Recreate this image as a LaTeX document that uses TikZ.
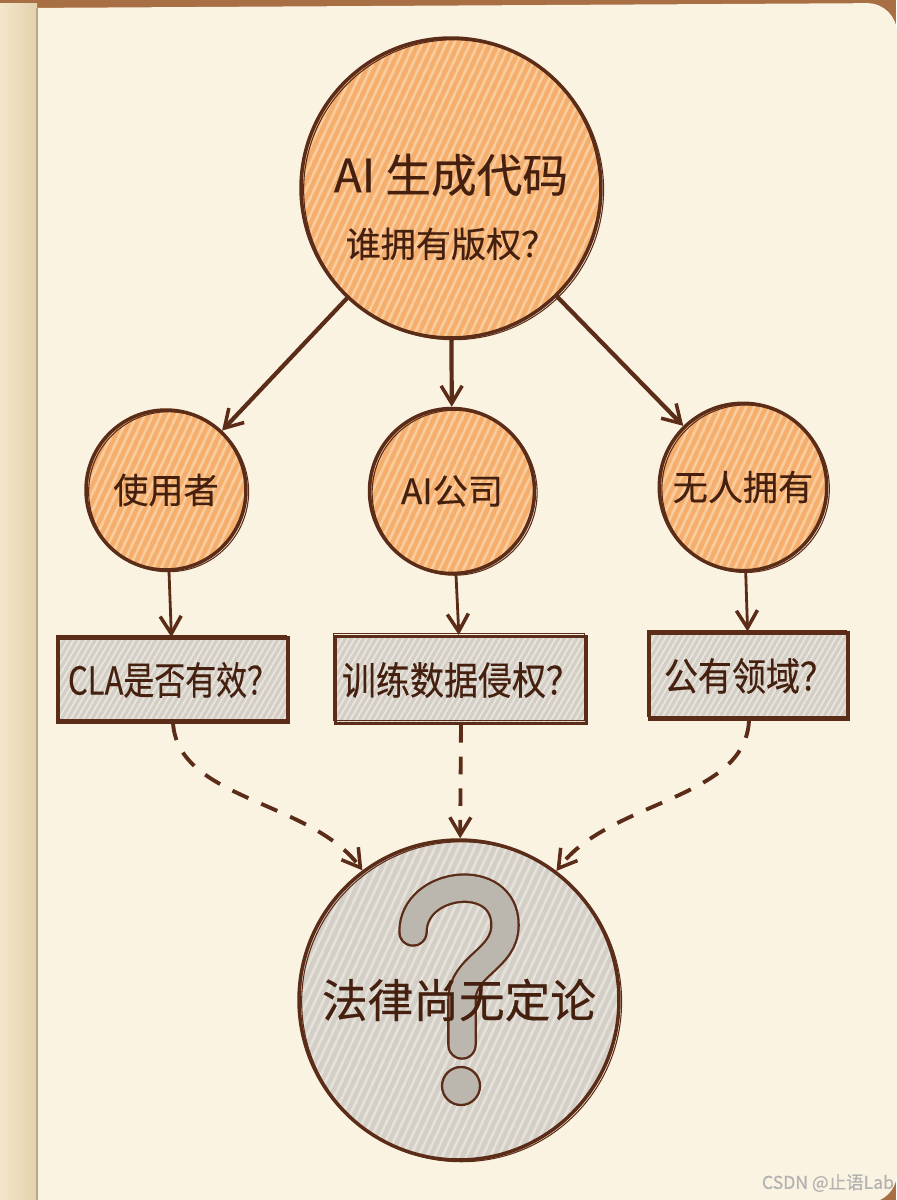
\documentclass[tikz,border=0pt]{standalone}
\usepackage{fontspec}
\newfontfamily\cjk[FakeBold=0.4]{Noto Sans CJK SC}
\usetikzlibrary{arrows.meta,patterns.meta}

\definecolor{desk}{HTML}{A86F45}
\definecolor{page}{HTML}{FBF3E2}
\definecolor{leaf}{HTML}{F3E6CB}
\definecolor{leafdk}{HTML}{E4D1AC}
\definecolor{ink}{HTML}{5B2C17}
\definecolor{txt}{HTML}{45200F}
\definecolor{peach}{HTML}{F5AE6C}
\definecolor{peachlt}{HTML}{FBD3A8}
\definecolor{stone}{HTML}{D3CFC7}
\definecolor{stonelt}{HTML}{EAE6DE}
\definecolor{qgray}{HTML}{BBB6AE}

\begin{document}
\begin{tikzpicture}[x=0.02cm, y=-0.02cm,
  ball/.style={circle, draw=ink, line width=2pt, inner sep=0pt, text=txt,
    preaction={fill=peach},
    pattern={Lines[angle=65,distance=4pt,line width=1.3pt]}, pattern color=peachlt,
    postaction={draw=ink, line width=0.6pt, transform canvas={shift={(1.5pt,-1pt)}}},
    font=\cjk\fontsize{20}{24}\selectfont},
  qbox/.style={rectangle, draw=ink, line width=1.8pt, inner sep=0pt, text=txt,
    preaction={fill=stone},
    pattern={Lines[angle=60,distance=3pt,line width=1pt]}, pattern color=stonelt,
    postaction={draw=ink, line width=0.5pt, transform canvas={shift={(-1pt,1.5pt)}}},
    font=\cjk\fontsize{22}{26}\selectfont},
  law/.style={ball, preaction={fill=stone}, pattern color=stonelt},
  arr/.style={draw=ink, line width=2.4pt, -{Straight Barb[length=10pt,width=12pt,line width=2pt]}},
  dashline/.style={arr, line width=2.2pt, dash pattern=on 10pt off 8pt},
  qmark/.style={draw=ink, line width=1.3pt, double=qgray, double distance=0.5cm, line cap=round}]
\useasboundingbox (0,0) rectangle (896,1200);
% notebook
\fill[desk] (0,0) rectangle (896,1200);
\fill[page] (20,1210) -- (20,8) [rounded corners=0.6cm] -- (897,3) -- (897,1203) -- (20,1203) -- cycle;
\shade[left color=leaf, right color=leafdk] (0,3) rectangle (37,1200);
\draw[leafdk!80!black, line width=0.6pt] (37,8) -- (37,1200);

\node[ball, minimum size=6cm, label={[text=txt, align=center, yshift=-0.38cm,
    font=\cjk\fontsize{26}{31}\selectfont]center:{AI 生成代码\\[6pt]{\fontsize{20}{24}\selectfont 谁拥有版权？}}}] (Q) at (451,188) {};

\node[ball, minimum size=3.2cm] (U) at (166,490) {使用者};
\node[ball, minimum size=3.3cm] (C) at (452,491) {AI公司};
\node[ball, minimum size=3.35cm] (N) at (743,487) {无人拥有};

\node[qbox, minimum width=4.6cm, minimum height=1.68cm] (U') at (173,680) {\scalebox{0.8}[1]{CLA是否有效？}};
\node[qbox, minimum width=5.02cm, minimum height=1.74cm] (C') at (461,680) {\scalebox{0.88}[1]{训练数据侵权？}};
\node[qbox, minimum width=3.98cm, minimum height=1.72cm] (N') at (749,676) {\scalebox{0.88}[1]{公有领域？}};

\draw[arr] (Q) -- (U);
\draw[arr] (Q) -- (C);
\draw[arr] (Q) -- (N);
\draw[arr, line width=1.6pt] (U) -- (U');
\draw[arr, line width=1.6pt] (C) -- (C');
\draw[arr, line width=1.6pt] (N) -- (N');

% the open question
\node[law, minimum size=6.4cm] (L) at (459,1000) {};
\draw[qmark] (413,932) .. controls (413,880) and (505,870) .. (505,925)
  .. controls (505,960) and (462,965) .. (462,1000) -- (462,1045);
\draw[ink, fill=qgray, line width=1.3pt] (461,1086) circle (0.38cm);
\node[text=txt, font=\cjk\fontsize{26}{31}\selectfont] at (L) {法律尚无定论};

\draw[dashline] (U'.south) .. controls (178,800) and (310,800) .. (L);
\draw[dashline] (C'.south) -- (L);
\draw[dashline] (N'.south) .. controls (745,800) and (610,800) .. (L);

\node[text=black!30, font=\cjk\fontsize{10}{12}\selectfont] at (828,1183) {CSDN @止语Lab};
\end{tikzpicture}
\end{document}
